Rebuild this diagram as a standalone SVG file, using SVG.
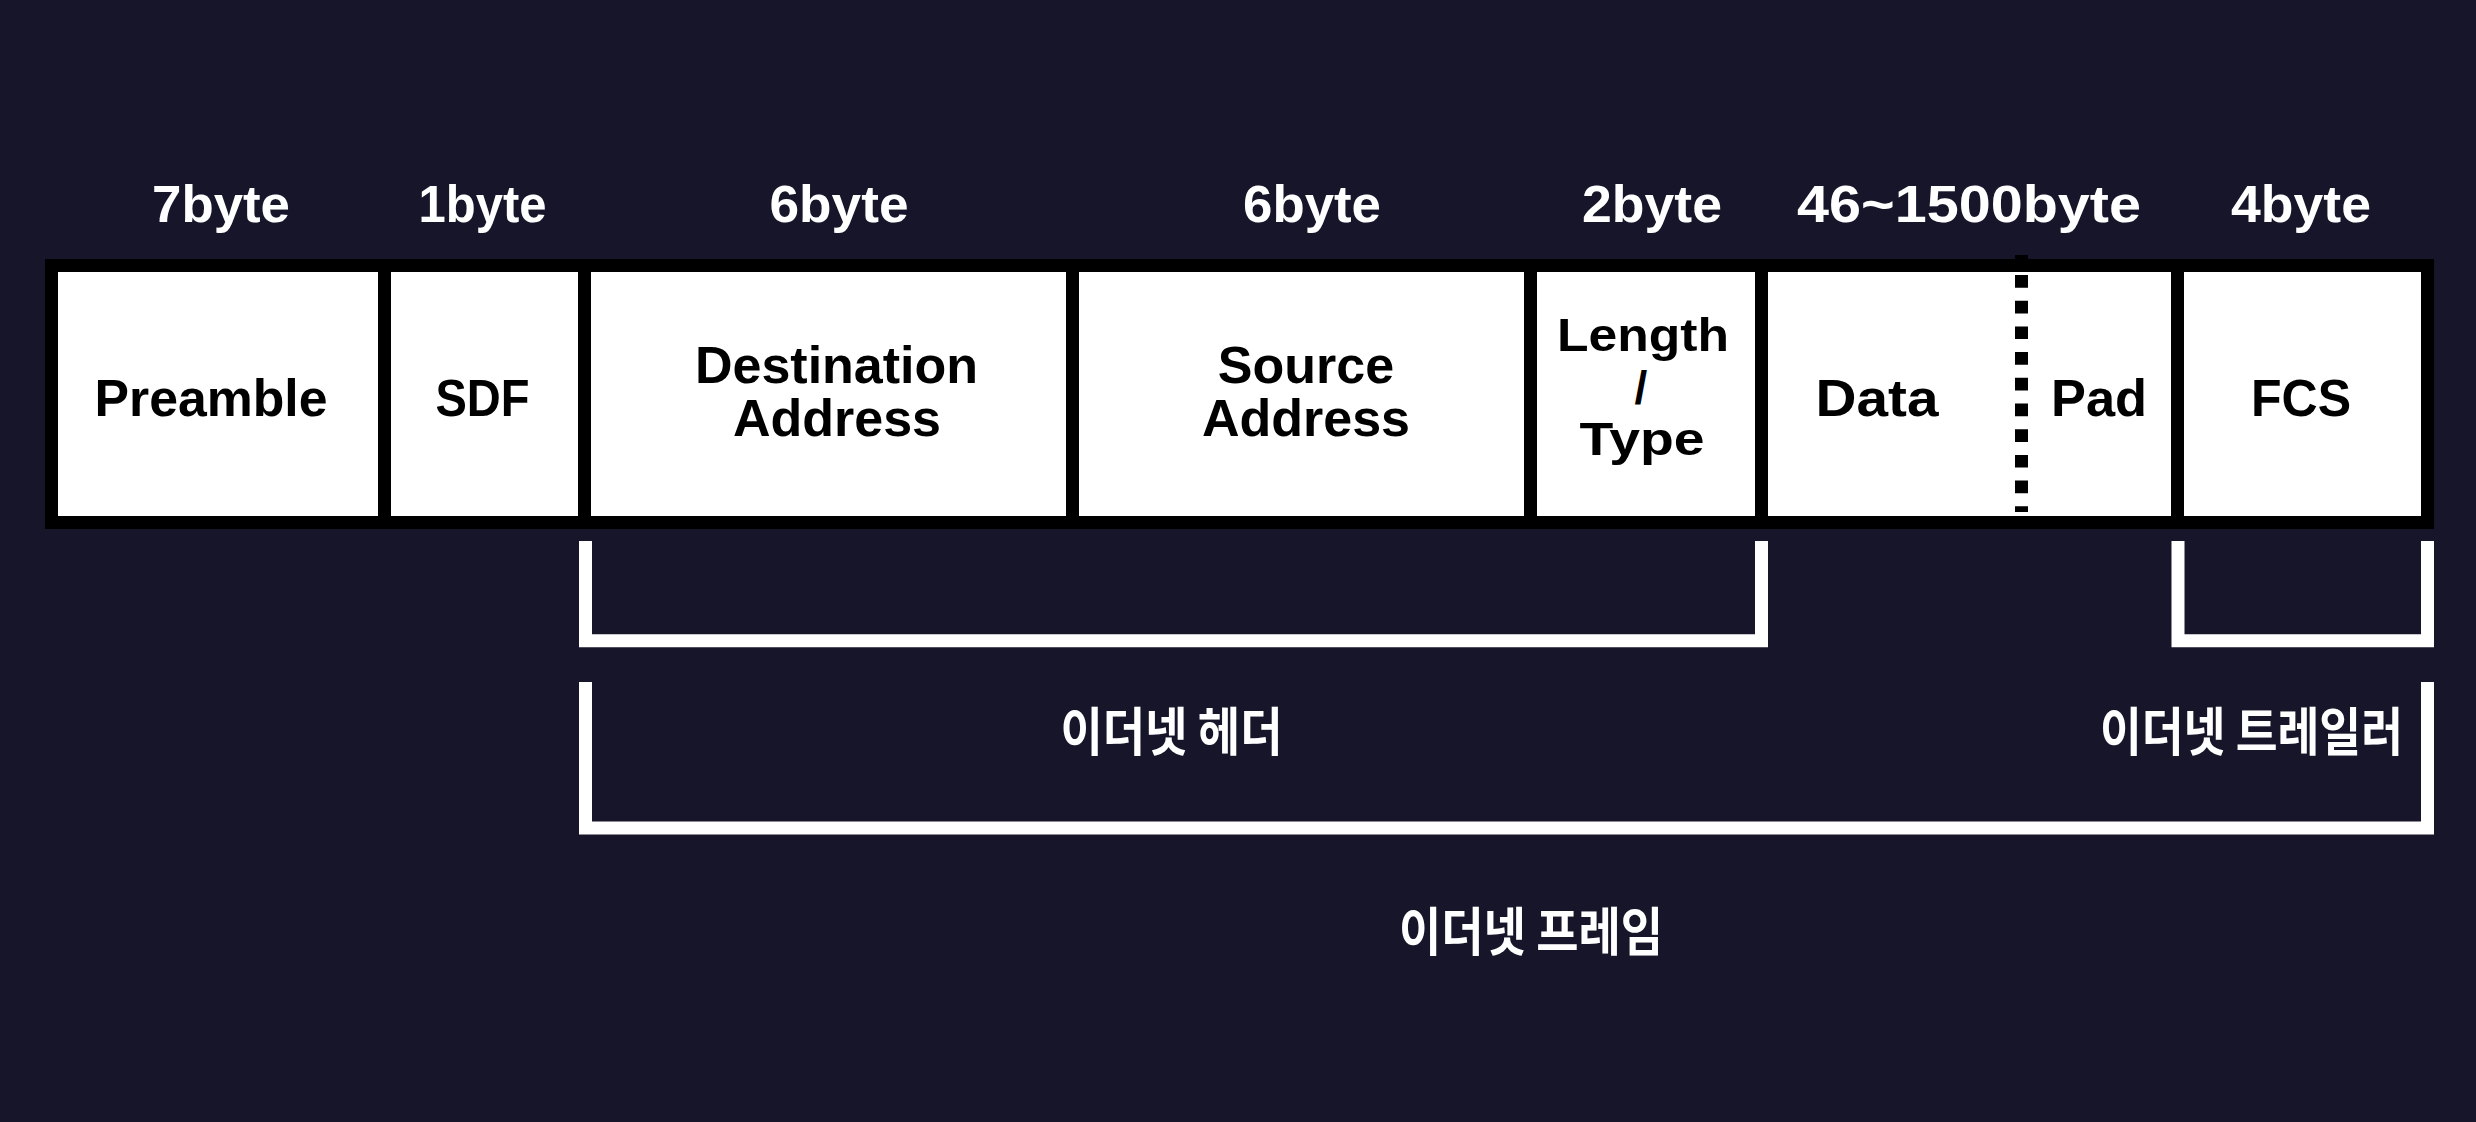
<svg xmlns="http://www.w3.org/2000/svg" width="2476" height="1122" viewBox="0 0 2476 1122">
<style>
.bg{fill:#17152a}
.field{fill:#ffffff}
.lbl{font-family:"Liberation Sans",Arial,sans-serif;font-weight:700;font-size:52px;text-anchor:middle}
.stack{font-size:46px}
.top{fill:#ffffff}
.in{fill:#000000}
.kr{font-family:"Noto Sans CJK KR","Noto Sans",sans-serif;font-weight:700;font-size:52px;fill:#ffffff;text-anchor:middle}
.br{fill:none;stroke:#ffffff;stroke-width:13;stroke-linejoin:miter;stroke-linecap:butt}
</style>
<rect class="bg" x="0" y="0" width="2476" height="1122"/>
<rect id="frame-border" x="45" y="259" width="2389" height="270" fill="#000000"/>

<g id="sizes">
<text class="lbl top" x="221" y="222" textLength="138" lengthAdjust="spacingAndGlyphs">7byte</text>
<text class="lbl top" x="482.5" y="222" textLength="128" lengthAdjust="spacingAndGlyphs">1byte</text>
<text class="lbl top" x="839" y="222" textLength="139" lengthAdjust="spacingAndGlyphs">6byte</text>
<text class="lbl top" x="1312" y="222" textLength="138" lengthAdjust="spacingAndGlyphs">6byte</text>
<text class="lbl top" x="1652" y="222" textLength="140" lengthAdjust="spacingAndGlyphs">2byte</text>
<text class="lbl top" x="1969" y="222" textLength="344" lengthAdjust="spacingAndGlyphs">46~1500byte</text>
<text class="lbl top" x="2301" y="222" textLength="140" lengthAdjust="spacingAndGlyphs">4byte</text>
</g>

<g id="preamble">
<rect class="field" x="58" y="272" width="320" height="244"/>
<text class="lbl in" x="211" y="416" textLength="233" lengthAdjust="spacingAndGlyphs">Preamble</text>
</g>
<g id="sdf">
<rect class="field" x="391" y="272" width="187" height="244"/>
<text class="lbl in" x="482.5" y="416" textLength="94" lengthAdjust="spacingAndGlyphs">SDF</text>
</g>
<g id="destination">
<rect class="field" x="591" y="272" width="475" height="244"/>
<text class="lbl in"><tspan x="836.5" y="383">Destination</tspan><tspan x="837" y="436">Address</tspan></text>
</g>
<g id="source">
<rect class="field" x="1079" y="272" width="445" height="244"/>
<text class="lbl in"><tspan x="1306" y="383">Source</tspan><tspan x="1306" y="436">Address</tspan></text>
</g>
<g id="length-type">
<rect class="field" x="1537" y="272" width="218" height="244"/>
<text class="lbl in stack" x="1643" y="351" textLength="172" lengthAdjust="spacingAndGlyphs">Length</text>
<text class="lbl in stack" x="1641" y="404">/</text>
<text class="lbl in stack" x="1642" y="455" textLength="125" lengthAdjust="spacingAndGlyphs">Type</text>
</g>
<g id="data-pad">
<rect class="field" x="1768" y="272" width="403" height="244"/>
<text class="lbl in" x="1877" y="416" textLength="123" lengthAdjust="spacingAndGlyphs">Data</text>
<text class="lbl in" x="2099" y="416" textLength="96" lengthAdjust="spacingAndGlyphs">Pad</text>
<line x1="2021.5" y1="255" x2="2021.5" y2="512" stroke="#000000" stroke-width="13" stroke-dasharray="12.7 13" stroke-dashoffset="5.7"/>
</g>
<g id="fcs">
<rect class="field" x="2184" y="272" width="237" height="244"/>
<text class="lbl in" x="2301" y="416" textLength="100" lengthAdjust="spacingAndGlyphs">FCS</text>
</g>

<g id="connectors">
<path class="br" d="M585.5 541 V640.8 H1761.5 V541"/>
<path class="br" d="M2178 541 V640.8 H2427.5 V541"/>
<path class="br" d="M585.5 682 V828 H2427.5 V682"/>
</g>

<g id="ethernet-header">
<text class="kr" x="1171.5" y="751" textLength="222" lengthAdjust="spacingAndGlyphs">이더넷 헤더</text>
</g>
<g id="ethernet-trailer">
<text class="kr" x="2251.5" y="751" textLength="303" lengthAdjust="spacingAndGlyphs">이더넷 트레일러</text>
</g>
<g id="ethernet-frame">
<text class="kr" x="1531" y="951" textLength="264" lengthAdjust="spacingAndGlyphs">이더넷 프레임</text>
</g>
</svg>
